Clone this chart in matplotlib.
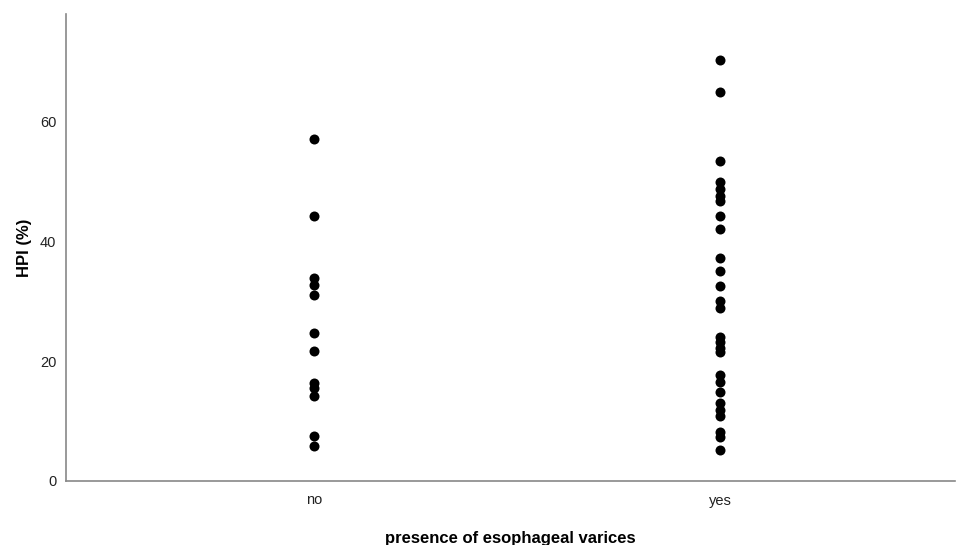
import matplotlib
matplotlib.use("Agg")
import matplotlib.pyplot as plt

plt.rcParams['font.family'] = ['Liberation Sans', 'DejaVu Sans']

categories = ["no", "yes"]
hpi_no = [57.2, 44.3, 33.9, 32.8, 31.1, 24.7, 21.7, 16.4, 15.6, 14.2, 7.5, 5.9]
hpi_yes = [70.3, 64.9, 53.4, 49.9, 48.7, 47.6, 46.7, 44.2, 42.1, 37.3, 35.0,
           32.6, 30.0, 28.9, 24.1, 23.2, 22.2, 21.5, 17.7, 16.6, 14.9,
           13.0, 11.9, 10.8, 8.2, 7.4, 5.2]
yticks = [0, 20, 40, 60]

fig = plt.figure(figsize=(9.58, 5.45), dpi=100)
ax = fig.add_axes([66/958, 1-481/545, (955-66)/958, (481-14)/545])

for i, vals in enumerate([hpi_no, hpi_yes]):
    ax.plot([i]*len(vals), vals, 'o', color='black', markersize=7.2, markeredgewidth=0)

ax.set_xlim(-0.611, 1.579)
ax.set_ylim(0, 78)
ax.set_xticks([0, 1])
ax.set_xticklabels(categories)
ax.set_yticks(yticks)
ax.tick_params(length=0, labelsize=10.5, colors='#222222')
ax.tick_params(axis='y', pad=7)
ax.tick_params(axis='x', pad=9)
for s in ['top', 'right']:
    ax.spines[s].set_visible(False)
for s in ['left', 'bottom']:
    ax.spines[s].set_color('#888888')
    ax.spines[s].set_linewidth(1.2)

ax.set_ylabel("HPI (%)", fontsize=12, fontweight='bold', labelpad=6)
ax.set_xlabel("presence of esophageal varices", fontsize=12, fontweight='bold', labelpad=17)

fig.savefig("out.png", dpi=100)
